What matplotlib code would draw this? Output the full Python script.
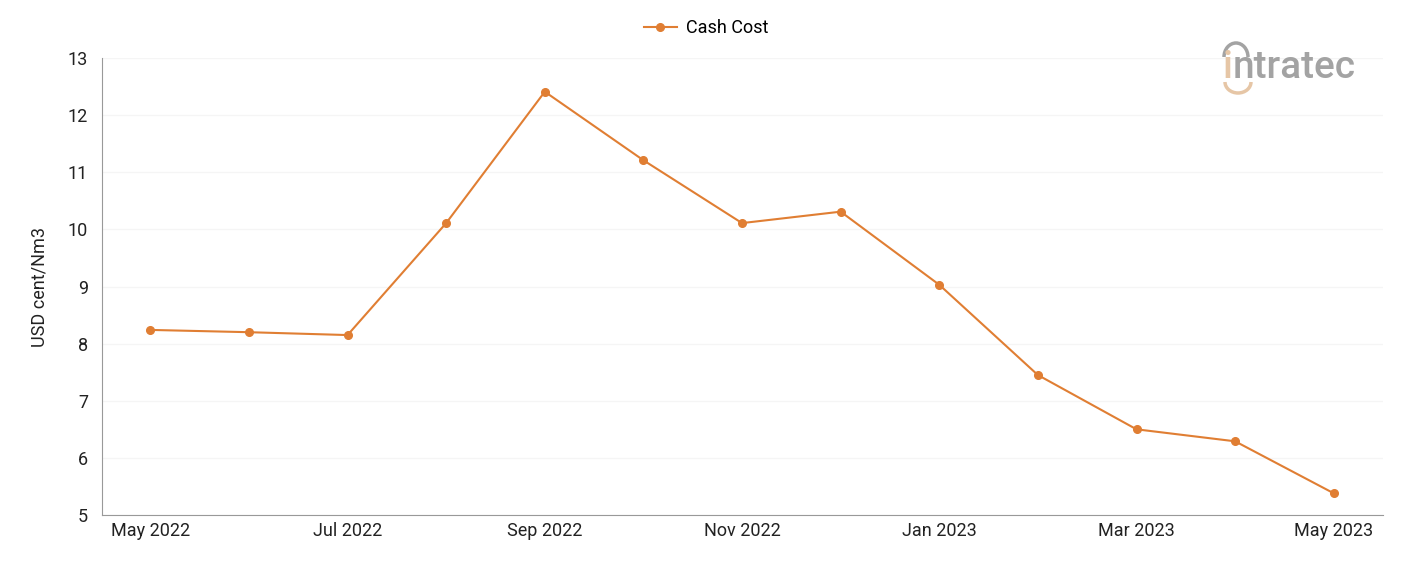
import numpy as np
import matplotlib.pyplot as plt
from matplotlib.patches import Arc

plt.rcParams['font.family'] = ['Roboto', 'DejaVu Sans']

months = ["May 2022", "Jun 2022", "Jul 2022", "Aug 2022", "Sep 2022", "Oct 2022",
          "Nov 2022", "Dec 2022", "Jan 2023", "Feb 2023", "Mar 2023", "Apr 2023", "May 2023"]
cash_cost = [8.24, 8.20, 8.15, 10.11, 12.41, 11.21, 10.11, 10.31, 9.03, 7.45, 6.50, 6.29, 5.38]

line_color = "#E07E33"

fig = plt.figure(figsize=(14.01, 5.61), dpi=100)
ax = fig.add_axes([0.0728, 0.082, 0.9144, 0.8146])

x = np.arange(len(months))
ax.plot(x, cash_cost, color=line_color, lw=1.5, marker="o", ms=5.5, label="Cash Cost", zorder=3)

ax.set_xlim(-0.49, 12.5)
ax.set_ylim(5, 13)
ax.set_yticks(range(5, 14))
ax.set_xticks(x[::2])
ax.set_xticklabels(months[::2])
ax.tick_params(axis="both", length=0, labelsize=13, colors="#222222")
ax.tick_params(axis="x", pad=5)
ax.tick_params(axis="y", pad=10)
ax.grid(axis="y", color="#f5f5f5", lw=1)
ax.set_axisbelow(True)
for s in ["top", "right"]:
    ax.spines[s].set_visible(False)
for s in ["left", "bottom"]:
    ax.spines[s].set_color("#999999")
ax.set_ylabel("USD cent/Nm3", fontsize=13, color="#222222", labelpad=14)

fig.legend(loc="center", bbox_to_anchor=(0.504, 0.95), frameon=False, fontsize=13,
           handlelength=1.8, handletextpad=0.5)

# logo
gray, beige = "#a3a3a3", "#e6c6a6"
ti = fig.text(1223 / 1401, 1 - 78 / 561, "i", ha="left", va="baseline", fontsize=28,
              color=beige, fontweight="medium")
ax.annotate("ntratec", xy=(1, 0), xycoords=ti, ha="left", va="bottom", fontsize=28,
            color=gray, fontweight="medium", annotation_clip=False)
fig.add_artist(Arc((1236 / 1401, 1 - 57 / 561), 24 / 1401, 28 / 561, theta1=0, theta2=180,
                   transform=fig.transFigure, color=gray, lw=2.5))
fig.add_artist(Arc((1238 / 1401, 1 - 82 / 561), 26 / 1401, 22 / 561, theta1=180, theta2=360,
                   transform=fig.transFigure, color=beige, lw=2.5))

fig.savefig("out.png", dpi=100, facecolor="white")
